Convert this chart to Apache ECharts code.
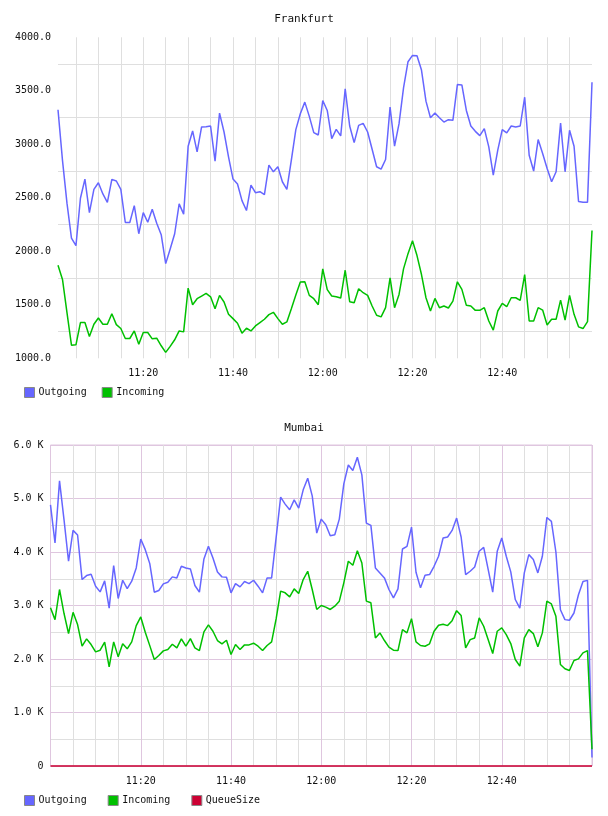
<!DOCTYPE html>
<html>
<head>
<meta charset="utf-8">
<script src="https://cdn.jsdelivr.net/npm/echarts@6/dist/echarts.min.js"></script>
<style>html,body{margin:0;padding:0;background:#fff}#c{width:608px;height:816px}</style>
</head>
<body>
<div id="c"></div>
<script>
// ---- Frankfurt (one point per minute, starting 11:01) ----
const fraStartMinute = 661;
const fraOutgoing = [3323,2850,2450,2124,2052,2496,2675,2362,2579,2641,2536,2458,2672,2657,2579,2269,2269,2427,2164,2362,
  2272,2393,2263,2155,1885,2022,2164,2443,2347,2982,3125,2929,3162,3165,3171,2842,3292,3115,2883,2675,
  2629,2474,2381,2619,2548,2557,2530,2805,2743,2790,2650,2579,2852,3137,3286,3394,3261,3109,3087,3409,
  3316,3053,3140,3078,3518,3171,3016,3177,3196,3115,2954,2790,2768,2858,3347,2982,3193,3527,3772,3831,
  3828,3694,3403,3248,3292,3248,3208,3230,3224,3558,3555,3316,3171,3121,3081,3146,2976,2712,2945,3137,
  3106,3171,3162,3171,3440,2898,2750,3044,2914,2774,2650,2743,3199,2743,3131,2982,2465,2458,2458,3580];
const fraIncoming = [1870,1737,1427,1123,1126,1334,1334,1204,1318,1377,1318,1318,1417,1315,1278,1185,1185,1256,1132,1241,
  1241,1182,1188,1117,1055,1111,1173,1256,1247,1656,1500,1557,1582,1606,1575,1464,1588,1526,1411,1371,
  1328,1235,1281,1256,1303,1334,1365,1408,1430,1371,1318,1340,1464,1591,1712,1715,1588,1557,1501,1836,
  1642,1582,1575,1563,1823,1529,1520,1650,1613,1588,1489,1402,1387,1473,1752,1473,1597,1836,1978,2099,
  1960,1783,1566,1442,1560,1473,1489,1470,1535,1715,1644,1495,1489,1448,1448,1473,1349,1263,1442,1513,
  1482,1566,1566,1541,1783,1349,1349,1473,1451,1312,1365,1365,1544,1356,1588,1411,1294,1278,1343,2195];

// ---- Mumbai (one point per minute, starting 11:00) ----
const mumStartMinute = 660;
const mumOutgoing = [4882,4168,5329,4600,3827,4404,4317,3485,3559,3584,3361,3255,3460,2950,3746,3131,3472,3317,3454,3702,
  4243,4044,3783,3249,3280,3404,3435,3535,3516,3733,3702,3684,3373,3249,3870,4106,3889,3628,3535,3528,
  3237,3410,3348,3448,3410,3472,3361,3237,3516,3516,4270,5025,4895,4789,4975,4820,5162,5379,5050,4354,
  4615,4510,4305,4323,4615,5273,5627,5522,5770,5441,4541,4497,3702,3609,3516,3299,3143,3311,4056,4106,
  4466,3621,3330,3566,3578,3733,3920,4261,4280,4404,4634,4280,3578,3640,3721,4013,4087,3671,3249,4013,
  4261,3920,3628,3112,2950,3609,3951,3858,3609,3920,4646,4572,4000,2920,2736,2724,2860,3200,3450,3470,
  160];
const mumIncoming = [2957,2736,3299,2850,2475,2873,2643,2239,2376,2270,2134,2165,2314,1854,2320,2040,2283,2190,2320,2624,
  2786,2500,2250,1991,2065,2152,2177,2276,2208,2376,2239,2382,2208,2158,2506,2637,2519,2345,2283,2351,
  2084,2270,2177,2264,2264,2295,2239,2158,2252,2320,2750,3268,3237,3162,3311,3224,3485,3640,3299,2926,
  3000,2969,2926,2988,3081,3423,3827,3752,4025,3795,3081,3050,2394,2488,2345,2221,2165,2158,2550,2488,
  2755,2320,2252,2239,2283,2519,2630,2649,2624,2717,2904,2811,2208,2363,2394,2767,2612,2360,2103,2519,
  2581,2457,2289,1991,1867,2394,2550,2475,2227,2488,3081,3030,2798,1898,1817,1786,1972,2003,2115,2158,
  314];
const mumQueueSize = [0,0,0,0,0,0,0,0,0,0,0,0,0,0,0,0,0,0,0,0,
  0,0,0,0,0,0,0,0,0,0,0,0,0,0,0,0,0,0,0,0,
  0,0,0,0,0,0,0,0,0,0,0,0,0,0,0,0,0,0,0,0,
  0,0,0,0,0,0,0,0,0,0,0,0,0,0,0,0,0,0,0,0,
  0,0,0,0,0,0,0,0,0,0,0,0,0,0,0,0,0,0,0,0,
  0,0,0,0,0,0,0,0,0,0,0,0,0,0,0,0,0,0,0,0,
  0];

const seriesNames = ['Outgoing', 'Incoming', 'QueueSize'];
const colors = {Outgoing: '#6666ff', Incoming: '#00c000', QueueSize: '#cc0033'};

function hhmm(m) {
  const h = Math.floor(m / 60), mm = m % 60;
  return h + ':' + (mm < 10 ? '0' : '') + mm;
}
const fraTimes = fraOutgoing.map((_, i) => hhmm(fraStartMinute + i));
const mumPairs = arr => arr.map((v, i) => [mumStartMinute + i, v]);

const FONT = 'DejaVu Sans Mono';
const TXT = '#111';
const GRAY = '#dfdfdf';
const PURPLE = '#dfc6df';
const fraN = fraTimes.length;

const chart = echarts.init(document.getElementById('c'), null, {renderer: 'canvas'});
const lineSeries = (name, data, xi, yi) => ({
  name, type: 'line', data, xAxisIndex: xi, yAxisIndex: yi,
  showSymbol: false, symbol: 'none', animation: false,
  lineStyle: {color: colors[name], width: 1.5},
  itemStyle: {color: colors[name]}
});

chart.setOption({
  animation: false,
  backgroundColor: '#fff',
  title: [
    {text: 'Frankfurt', left: 'center', top: 14, padding: 0,
     textStyle: {fontFamily: FONT, fontSize: 11, fontWeight: 'normal', color: TXT}},
    {text: 'Mumbai', left: 'center', top: 423, padding: 0,
     textStyle: {fontFamily: FONT, fontSize: 11, fontWeight: 'normal', color: TXT}}
  ],
  legend: [
    {data: seriesNames.slice(0, 2), left: 24, top: 387, padding: 0, itemWidth: 10, itemHeight: 10, itemGap: 15,
     icon: 'rect', itemStyle: {borderColor: '#888', borderWidth: 1},
     textStyle: {fontFamily: FONT, fontSize: 10, color: TXT, padding: [0, 0, 0, -1]}, selectedMode: false},
    {data: seriesNames, left: 24, top: 795, padding: 0, itemWidth: 10, itemHeight: 10, itemGap: 21,
     icon: 'rect', itemStyle: {borderColor: '#888', borderWidth: 1},
     textStyle: {fontFamily: FONT, fontSize: 10, color: TXT, padding: [0, 0, 0, -1]}, selectedMode: false}
  ],
  grid: [
    {left: 58, width: 534, top: 37.3, height: 321, containLabel: false, show: false},
    {left: 50.5, width: 541.5, top: 445, height: 321, containLabel: false, show: true,
     borderColor: PURPLE, borderWidth: 1, backgroundColor: 'transparent'}
  ],
  xAxis: [
    {gridIndex: 0, type: 'category', data: fraTimes, boundaryGap: false,
     axisLine: {show: false}, axisTick: {show: false},
     axisLabel: {interval: (i) => (fraStartMinute + i) % 20 === 0 && i < fraN - 1,
                 fontFamily: FONT, fontSize: 10, color: TXT, margin: 10},
     splitLine: {show: true, interval: (i) => (fraStartMinute + i) % 5 === 0 && i > 0 && i < fraN - 1,
                 lineStyle: {color: GRAY, width: 1}}},
    {gridIndex: 1, type: 'value', min: 660, max: 780, interval: 5,
     axisLine: {show: false}, axisTick: {show: false},
     axisLabel: {formatter: v => (v % 20 === 0 && v > 660 && v < 780) ? hhmm(v) : '',
                 fontFamily: FONT, fontSize: 10, color: TXT, margin: 10},
     splitLine: {show: true, lineStyle: {color: [PURPLE, GRAY, GRAY, GRAY], width: 1}}}
  ],
  yAxis: [
    {gridIndex: 0, type: 'value', min: 1000, max: 4000, interval: 500,
     axisLine: {show: false}, axisTick: {show: false},
     axisLabel: {formatter: v => v.toFixed(1), fontFamily: FONT, fontSize: 10, color: TXT, margin: 7},
     splitLine: {show: false},
     minorTick: {show: false, splitNumber: 2},
     minorSplitLine: {show: true, lineStyle: {color: GRAY, width: 1}}},
    {gridIndex: 1, type: 'value', min: 0, max: 6000, interval: 1000,
     axisLine: {show: false}, axisTick: {show: false},
     axisLabel: {formatter: v => v === 0 ? '0' : (v / 1000).toFixed(1) + ' K',
                 fontFamily: FONT, fontSize: 10, color: TXT, margin: 7},
     splitLine: {show: true, lineStyle: {color: PURPLE, width: 1}},
     minorTick: {show: false, splitNumber: 2},
     minorSplitLine: {show: true, lineStyle: {color: GRAY, width: 1}}}
  ],
  series: [
    lineSeries('Outgoing', fraOutgoing, 0, 0),
    lineSeries('Incoming', fraIncoming, 0, 0),
    lineSeries('Outgoing', mumPairs(mumOutgoing), 1, 1),
    lineSeries('Incoming', mumPairs(mumIncoming), 1, 1),
    Object.assign(lineSeries('QueueSize', mumPairs(mumQueueSize), 1, 1), {clip: false})
  ]
});
</script>
</body>
</html>
